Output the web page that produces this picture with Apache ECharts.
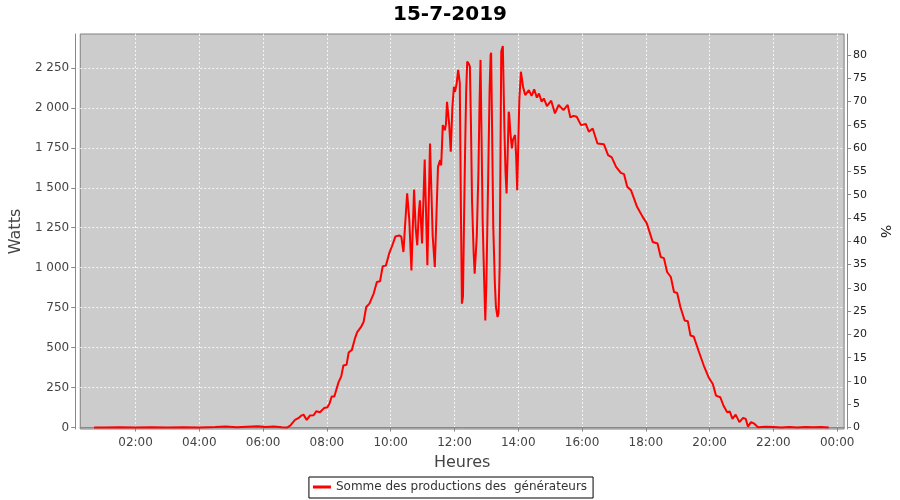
<!DOCTYPE html>
<html>
<head>
<meta charset="utf-8">
<script src="https://cdn.jsdelivr.net/npm/echarts@6/dist/echarts.min.js"></script>
<style>html,body{margin:0;padding:0;background:#fff}#c{width:900px;height:500px}</style>
</head>
<body>
<div id="c"></div>
<script>
// Data (time of day, watts)
const times = [
"0:42","1:00","1:30","2:00","2:30","3:00","3:30","4:00","4:30","4:50","5:10","5:30","5:50","6:05","6:20","6:35","6:45",
"6:51","7:00","7:07","7:12","7:16","7:19","7:22","7:28","7:35","7:40","7:47","7:55","8:01","8:05","8:09","8:14","8:18","8:22","8:27","8:31","8:37","8:41","8:47","8:53","8:57","9:04","9:09","9:14","9:20","9:28","9:34","9:40","9:45","9:51","9:57","10:03","10:09","10:16","10:20","10:24","10:27","10:31","10:35","10:39","10:44","10:47","10:50","10:53","10:55","10:59","11:04","11:09","11:14","11:19","11:23","11:29","11:33","11:35","11:38","11:42","11:44","11:46","11:50","11:53","11:56","11:59","12:01","12:04","12:07","12:10","12:12","12:14","12:16","12:18","12:20","12:22","12:24","12:27","12:29","12:31","12:33","12:36","12:38","12:40","12:42","12:45","12:47","12:49","12:50","12:53","12:56","12:58","13:00","13:03","13:06","13:08","13:09","13:13","13:16","13:18","13:21","13:23","13:25","13:28","13:31","13:34","13:36","13:38","13:40","13:42","13:43","13:45","13:48","13:50","13:54","13:56","13:58","14:02","14:05","14:07","14:09","14:13","14:16","14:20","14:25","14:27","14:30","14:35","14:39","14:44","14:48","14:54","15:02","15:09","15:16","15:25","15:33","15:38","15:44","15:50","15:58","16:07","16:13","16:20","16:29","16:41","16:49","16:56","17:04","17:13","17:19","17:25","17:32","17:43","17:54","18:02","18:13","18:22","18:28","18:34","18:40","18:47","18:53","18:59","19:05","19:13","19:19","19:24","19:30","19:39","19:49","19:58","20:06","20:12","20:20","20:26","20:33","20:38","20:43","20:49","20:56","21:03","21:08","21:12","21:18","21:24","21:31","21:45","22:00","22:15","22:30","22:45","23:00","23:15","23:30","23:44"
];
const watts = [
0,0,2,0,2,0,2,0,3,6,2,5,8,3,6,2,0,
12,48,60,75,81,70,48,75,77,102,96,123,127,150,194,194,240,284,320,388,393,470,486,560,597,628,660,754,775,838,910,915,1009,1013,1088,1140,1196,1202,1195,1098,1260,1465,1300,983,1489,1250,1140,1350,1422,1152,1677,1015,1777,1200,1005,1631,1673,1640,1892,1860,1900,2038,1900,1725,2000,2132,2100,2150,2237,2155,1400,775,820,1300,1735,2100,2289,2275,2258,1900,1422,1100,963,970,1200,1590,2000,2300,2310,1297,900,670,900,1485,2100,2331,2345,1255,900,754,691,720,1004,2352,2387,1861,1600,1464,1700,1976,1960,1850,1746,1800,1830,1700,1485,2049,2226,2180,2132,2080,2090,2111,2075,2090,2116,2064,2090,2038,2059,2011,2045,1965,2018,1986,2018,1940,1950,1944,1892,1899,1850,1871,1777,1773,1704,1690,1631,1593,1585,1506,1485,1385,1318,1276,1161,1151,1067,1060,973,942,848,842,754,670,665,576,570,482,388,315,273,200,190,138,96,100,54,81,34,61,54,6,34,24,2,5,3,0,3,0,4,2,3,0
];
const xTicks = [120,240,360,480,600,720,840,960,1080,1200,1320,1440];
const wattTicks = [0,250,500,750,1000,1250,1500,1750,2000,2250];
const pctTicks = [0,5,10,15,20,25,30,35,40,45,50,55,60,65,70,75,80];
const titleText = "15-7-2019";
const seriesName = "Somme des productions des  générateurs";

function toMin(s){const p=s.split(":");return (+p[0])*60+(+p[1]);}
const points = times.map((t,i)=>[toMin(t), watts[i]]);
function fmtTime(v){let h=Math.floor(v/60)%24, m=Math.round(v%60);return String(h).padStart(2,"0")+":"+String(m).padStart(2,"0");}
function fmtW(v){const s=String(Math.round(v));return s.length>3? s.slice(0,s.length-3)+" "+s.slice(-3): s;}

const chart = echarts.init(document.getElementById('c'), null, {renderer:'canvas'});
const font = "DejaVu Sans";
chart.setOption({
  animation:false,
  backgroundColor:'#ffffff',
  title:{text:titleText,left:'center',top:0,textStyle:{fontFamily:font,fontSize:20,fontWeight:'bold',color:'#000'}},
  grid:{left:76,right:51,top:34,bottom:71,show:true,backgroundColor:'#cccccc',borderColor:'#808080',borderWidth:1},
  legend:{left:'center',top:477,data:[seriesName],borderColor:'#000',borderWidth:1,borderRadius:0,padding:[4,6,5,4],
    itemWidth:18,itemHeight:3,itemGap:4,icon:'rect',textStyle:{fontFamily:font,fontSize:12,color:'#333'}},
  xAxis:{type:'value',min:16,max:1453,name:'Heures',nameLocation:'middle',nameGap:22,
    nameTextStyle:{fontFamily:font,fontSize:16,color:'#444'},
    offset:4,
    axisLine:{show:true,lineStyle:{color:'#888'}},
    axisTick:{show:true,length:4,customValues:xTicks,lineStyle:{color:'#888'}},
    axisLabel:{customValues:xTicks,formatter:fmtTime,fontFamily:font,fontSize:12,color:'#444',margin:4},
    splitLine:{show:true,lineStyle:{color:'#f4f4f4',type:[2,2],width:1}}},
  yAxis:[
   {type:'value',min:-9,max:2462,name:'Watts',nameLocation:'middle',nameGap:47,
    nameTextStyle:{fontFamily:font,fontSize:16,color:'#444'},
    offset:5,position:'left',
    axisLine:{show:true,lineStyle:{color:'#888'}},
    axisTick:{show:true,length:4,customValues:wattTicks,lineStyle:{color:'#888'}},
    axisLabel:{customValues:wattTicks,formatter:fmtW,fontFamily:font,fontSize:12,color:'#444',margin:6},
    splitLine:{show:true,lineStyle:{color:'#f4f4f4',type:[2,2],width:1}}},
   {type:'value',min:-0.3,max:84.5,name:'%',nameLocation:'middle',nameGap:27,nameRotate:-90,
    nameTextStyle:{fontFamily:font,fontSize:14,color:'#222'},
    offset:3,position:'right',
    axisLine:{show:true,lineStyle:{color:'#888'}},
    axisTick:{show:true,length:4,customValues:pctTicks,lineStyle:{color:'#888'}},
    axisLabel:{customValues:pctTicks,fontFamily:font,fontSize:11,color:'#222',margin:6},
    splitLine:{show:false}}
  ],
  series:[{name:seriesName,type:'line',yAxisIndex:0,data:points,showSymbol:false,
    lineStyle:{color:'#ff0000',width:2},itemStyle:{color:'#ff0000'}}]
});
</script>
</body>
</html>
